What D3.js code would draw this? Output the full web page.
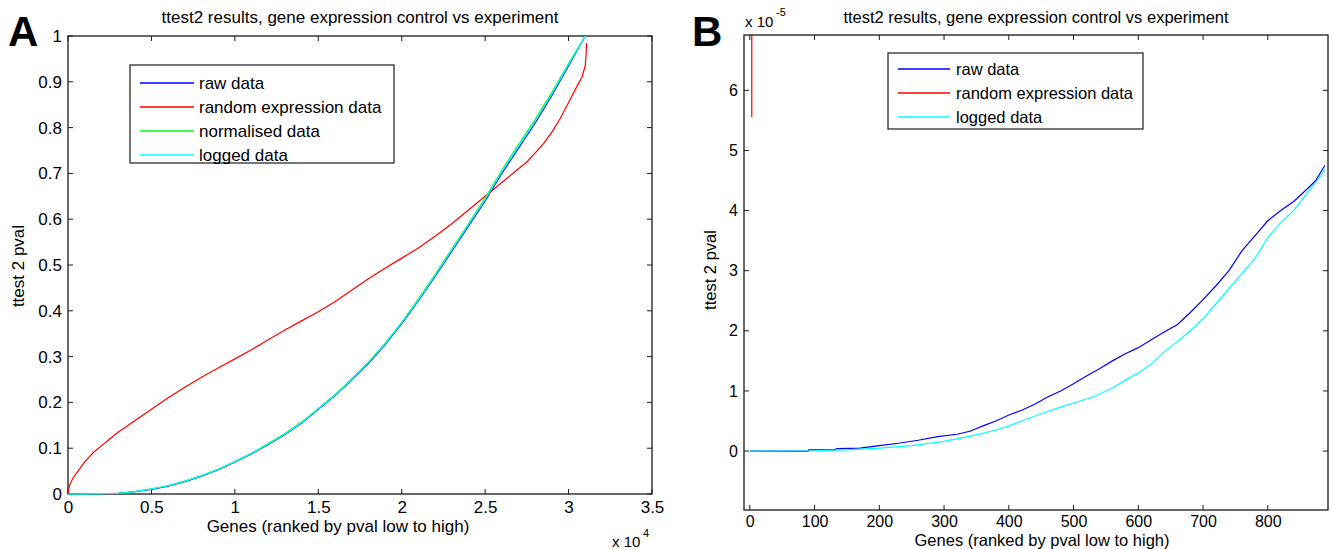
<!DOCTYPE html>
<html><head><meta charset="utf-8">
<script src="https://cdn.jsdelivr.net/npm/d3@7"></script>
<style>
body{margin:0;background:#fff;}
text{font-family:"Liberation Sans",Arial,sans-serif;fill:#000;}
</style></head><body>
<svg id="c" width="1333" height="549"></svg>
<script>
// ---------- Panel A data (x in genes, y = p-value) ----------
const aX = [0,1000,2000,3000,3500,4000,5000,6000,7000,8000,9000,10000,11000,12000,13000,14000,15000,16000,17000,18000,19000,20000,21000,22000,23000,24000,25000,26000,27000,28000,29000,30000,31000];
const aRaw = [0,0.0003,0.0008,0.0015,0.003,0.005,0.01,0.017,0.027,0.039,0.053,0.07,0.088,0.108,0.13,0.155,0.185,0.215,0.249,0.285,0.326,0.372,0.422,0.475,0.53,0.585,0.64,0.70,0.755,0.81,0.87,0.935,1.0];
const aNorm = [0,0.0003,0.0008,0.0016,0.003,0.005,0.011,0.018,0.028,0.040,0.054,0.071,0.089,0.110,0.132,0.157,0.187,0.217,0.251,0.288,0.329,0.375,0.426,0.479,0.535,0.59,0.646,0.707,0.763,0.818,0.877,0.94,1.0];
const aLog = [0,0.0003,0.0008,0.0016,0.003,0.005,0.011,0.018,0.028,0.040,0.054,0.071,0.089,0.109,0.131,0.156,0.186,0.216,0.250,0.287,0.328,0.374,0.424,0.477,0.533,0.588,0.643,0.704,0.760,0.815,0.874,0.938,1.0];
const aRandX = [0,100,300,600,1000,1500,2000,2500,3000,4000,5000,6000,7000,7500,8000,9000,10000,11000,12000,13000,14000,15000,16000,17000,18000,19000,20000,21000,22000,23000,24000,25000,26000,27000,27500,28000,28500,29000,29500,30000,30500,30800,31000,31050,31080];
const aRand = [0,0.02,0.035,0.05,0.07,0.09,0.105,0.12,0.135,0.16,0.185,0.21,0.233,0.244,0.255,0.275,0.295,0.315,0.337,0.358,0.378,0.398,0.42,0.445,0.47,0.493,0.515,0.537,0.563,0.59,0.62,0.65,0.68,0.71,0.725,0.745,0.765,0.79,0.82,0.855,0.89,0.91,0.935,0.96,0.985];
const aXTicks = [0,5000,10000,15000,20000,25000,30000,35000];
const aXTickLabels = ["0","0.5","1","1.5","2","2.5","3","3.5"];
const aYTicks = [0,0.1,0.2,0.3,0.4,0.5,0.6,0.7,0.8,0.9,1];
const aYTickLabels = ["0","0.1","0.2","0.3","0.4","0.5","0.6","0.7","0.8","0.9","1"];

// ---------- Panel B data (x in genes, y in units of 1e-5) ----------
const bRawX = [0,90,91,130,135,170,200,230,260,290,320,340,360,380,400,420,440,460,480,500,520,540,560,580,600,620,640,660,680,700,720,740,760,780,800,820,840,860,874,888];
const bRaw = [0,0,0.02,0.02,0.04,0.05,0.09,0.13,0.18,0.24,0.28,0.33,0.42,0.5,0.6,0.68,0.78,0.9,1.0,1.12,1.25,1.37,1.5,1.62,1.72,1.85,1.98,2.1,2.3,2.52,2.75,3.0,3.33,3.58,3.83,4.0,4.15,4.35,4.5,4.75];
const bLogX = [0,100,150,200,250,300,350,380,400,420,450,480,500,530,560,580,600,620,640,660,680,700,720,740,760,780,800,820,840,860,880,888];
const bLog = [0,0.005,0.02,0.05,0.09,0.16,0.27,0.35,0.42,0.5,0.62,0.73,0.8,0.9,1.05,1.18,1.3,1.45,1.65,1.82,2.0,2.2,2.45,2.7,2.95,3.2,3.55,3.8,4.0,4.28,4.55,4.68];
const bRandX = [3,3,3];
const bRand = [5.55,6.9,9];
const bXTicks = [0,100,200,300,400,500,600,700,800];
const bYTicks = [0,1,2,3,4,5,6];

const legendA = ["raw data","random expression data","normalised data","logged data"];
const legendB = ["raw data","random expression data","logged data"];
const title = "ttest2 results, gene expression control vs experiment";
const xTitle = "Genes (ranked by pval low to high)";
const yTitle = "ttest 2 pval";

const C = {raw:"#0000ff", rand:"#ff0000", norm:"#00ff00", log:"#00ffff"};
const svg = d3.select("#c");
svg.append("rect").attr("width",1333).attr("height",549).attr("fill","#fff");

function panel(opt){
  const FS = opt.fs;
  const g = svg.append("g");
  const x = d3.scaleLinear().domain(opt.xd).range([opt.l,opt.r]);
  const y = d3.scaleLinear().domain(opt.yd).range([opt.b,opt.t]);
  const id = "clip"+opt.name;
  svg.append("clipPath").attr("id",id).append("rect")
     .attr("x",opt.l).attr("y",opt.t-1).attr("width",opt.r-opt.l).attr("height",opt.b-opt.t+2);
  g.append("rect").attr("x",opt.l).attr("y",opt.t).attr("width",opt.r-opt.l).attr("height",opt.b-opt.t)
   .attr("fill","none").attr("stroke","#1a1a1a").attr("stroke-width",1.3);
  const tl = 5;
  const ax = d3.axisBottom(x).tickValues(opt.xt).tickSize(0).tickPadding(opt.xpad)
      .tickFormat((d,i)=>opt.xtl[i]);
  const gx = g.append("g").attr("transform","translate(0,"+opt.b+")").call(ax);
  gx.select(".domain").remove();
  gx.selectAll("text").attr("font-size",opt.tfs).attr("font-family","Liberation Sans, Arial, sans-serif").attr("fill","#000");
  const ay = d3.axisLeft(y).tickValues(opt.yt).tickSize(0).tickPadding(6)
      .tickFormat((d,i)=>opt.ytl[i]);
  const gy = g.append("g").attr("transform","translate("+opt.l+",0)").call(ay);
  gy.select(".domain").remove();
  gy.selectAll("text").attr("font-size",opt.tfs).attr("font-family","Liberation Sans, Arial, sans-serif").attr("fill","#000");
  opt.xt.forEach(v=>{
    g.append("line").attr("x1",x(v)).attr("x2",x(v)).attr("y1",opt.b).attr("y2",opt.b-tl).attr("stroke","#1a1a1a");
    g.append("line").attr("x1",x(v)).attr("x2",x(v)).attr("y1",opt.t).attr("y2",opt.t+tl).attr("stroke","#1a1a1a");
  });
  opt.yt.forEach(v=>{
    g.append("line").attr("y1",y(v)).attr("y2",y(v)).attr("x1",opt.l).attr("x2",opt.l+tl).attr("stroke","#1a1a1a");
    g.append("line").attr("y1",y(v)).attr("y2",y(v)).attr("x1",opt.r).attr("x2",opt.r-tl).attr("stroke","#1a1a1a");
  });
  const lines = g.append("g").attr("clip-path","url(#"+id+")");
  opt.series.forEach(s=>{
    const pts = s.x.map((v,i)=>[v,s.y[i]]);
    lines.append("path").attr("d",d3.line().x(d=>x(d[0])).y(d=>y(d[1]))(pts))
      .attr("fill","none").attr("stroke",s.c).attr("stroke-width",1.2);
  });
  g.append("text").attr("x",opt.titleX).attr("y",23).attr("text-anchor","middle").attr("font-size",FS).text(title);
  g.append("text").attr("x",opt.xTitleX).attr("y",opt.xTitleY).attr("text-anchor","middle").attr("font-size",FS).text(xTitle);
  g.append("text").attr("transform","translate("+opt.yTitleX+","+opt.yTitleY+") rotate(-90)")
    .attr("text-anchor","middle").attr("font-size",FS).text(yTitle);
  g.append("text").attr("x",opt.letterX).attr("y",46).attr("font-size",42).attr("font-weight","bold").text(opt.name);
  const lg = g.append("g");
  lg.append("rect").attr("x",opt.lg.x).attr("y",opt.lg.y).attr("width",opt.lg.w).attr("height",opt.lg.h)
    .attr("fill","#fff").attr("stroke","#1a1a1a").attr("stroke-width",1.2);
  opt.lg.items.forEach((it,i)=>{
    const yy = opt.lg.y + opt.lg.first + i*opt.lg.step;
    lg.append("line").attr("x1",opt.lg.x+opt.lg.l1).attr("x2",opt.lg.x+opt.lg.l2).attr("y1",yy).attr("y2",yy)
      .attr("stroke",it.c).attr("stroke-width",1.3);
    lg.append("text").attr("x",opt.lg.x+opt.lg.tx).attr("y",yy+6).attr("font-size",FS).text(it.t);
  });
  return {x,y,g};
}

panel({name:"A", l:68, r:652, t:36, b:494, xd:[0,35000], yd:[0,1], fs:17, tfs:17, xpad:7,
  xt:aXTicks, xtl:aXTickLabels, yt:aYTicks, ytl:aYTickLabels,
  series:[{x:aX,y:aRaw,c:C.raw},{x:aRandX,y:aRand,c:C.rand},{x:aX,y:aNorm,c:C.norm},{x:aX,y:aLog,c:C.log}],
  titleX:360, xTitleX:338, xTitleY:532, yTitleX:24, yTitleY:266, letterX:8,
  lg:{x:130,y:65,w:264,h:98,first:18,step:24,l1:10,l2:64,tx:69,
      items:[{t:legendA[0],c:C.raw},{t:legendA[1],c:C.rand},{t:legendA[2],c:C.norm},{t:legendA[3],c:C.log}]}
});
svg.append("text").attr("x",612).attr("y",547).attr("font-size",15).text("x 10");
svg.append("text").attr("x",643).attr("y",537).attr("font-size",11).text("4");

panel({name:"B", l:744, r:1328, t:35, b:510, xd:[-9,893], yd:[-0.98,6.92], fs:16.5, tfs:16, xpad:6,
  xt:bXTicks, xtl:bXTicks.map(String), yt:bYTicks, ytl:bYTicks.map(String),
  series:[{x:bRawX,y:bRaw,c:C.raw},{x:bRandX,y:bRand,c:C.rand},{x:bLogX,y:bLog,c:C.log}],
  titleX:1036, xTitleX:1042, xTitleY:546, yTitleX:716, yTitleY:270, letterX:692,
  lg:{x:888,y:53,w:255,h:76,first:16,step:24,l1:10,l2:62,tx:68,
      items:[{t:legendB[0],c:C.raw},{t:legendB[1],c:C.rand},{t:legendB[2],c:C.log}]}
});
svg.append("text").attr("x",745).attr("y",27).attr("font-size",15).text("x 10");
svg.append("text").attr("x",776).attr("y",16).attr("font-size",11).text("-5");
</script>
</body></html>
